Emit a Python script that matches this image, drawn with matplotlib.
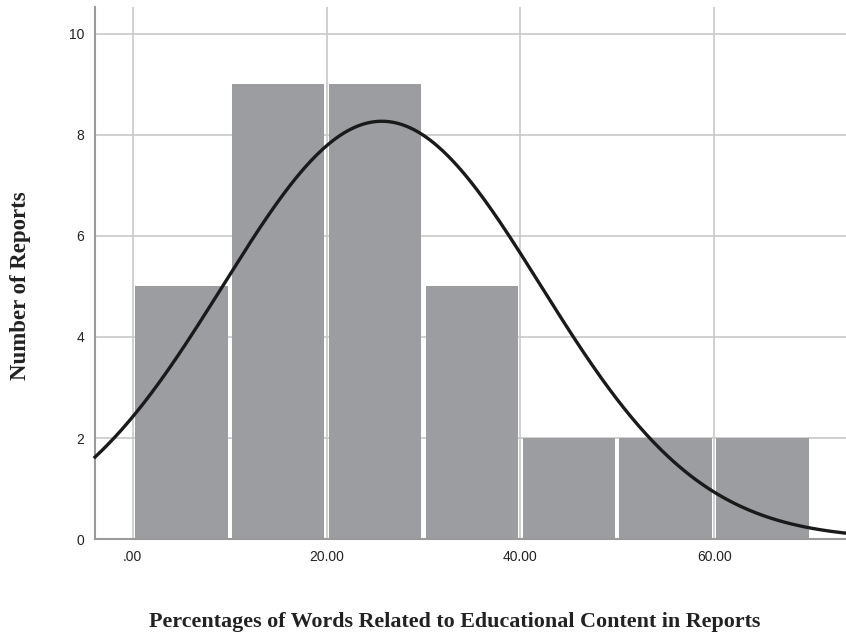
import numpy as np
import matplotlib.pyplot as plt
from matplotlib.ticker import FuncFormatter

# histogram bins (percent of words) and counts
bin_left = [0, 10, 20, 30, 40, 50, 60]
counts = [5, 9, 9, 5, 2, 2, 2]
bin_width = 10

# fitted normal curve parameters (as shown by SPSS)
fit_mean = 25.7
fit_sd = 16.4
n_reports = sum(counts)

xticks = [0, 20, 40, 60]
yticks = [0, 2, 4, 6, 8, 10]

fig = plt.figure(figsize=(8.46, 6.37), dpi=100)
ax = fig.add_axes([0.1123, 0.1538, 0.8877, 0.835])

ax.set_xlim(-3.9, 73.6)
ax.set_ylim(0, 10.53)

ax.grid(True, color="#c8c8c8", linewidth=1.2, zorder=0)
ax.set_axisbelow(True)

centers = [b + bin_width / 2 for b in bin_left]
ax.bar(centers, counts, width=bin_width * 0.955, color="#9c9da1",
       edgecolor="none", zorder=2)

xs = np.linspace(-3.9, 73.6, 400)
ys = n_reports * bin_width / (fit_sd * np.sqrt(2 * np.pi)) * np.exp(-0.5 * ((xs - fit_mean) / fit_sd) ** 2)
ax.plot(xs, ys, color="#1a1a1a", linewidth=2.4, zorder=3, clip_on=False)

ax.set_xticks(xticks)
ax.set_yticks(yticks)
ax.xaxis.set_major_formatter(FuncFormatter(lambda v, p: ".00" if v == 0 else f"{v:.2f}"))
ax.tick_params(length=0, labelsize=10, colors="#222222", pad=8)
for lbl in ax.get_xticklabels() + ax.get_yticklabels():
    lbl.set_family("Liberation Sans")

for side in ["top", "right"]:
    ax.spines[side].set_visible(False)
for side in ["left", "bottom"]:
    ax.spines[side].set_color("#9a9a9a")
    ax.spines[side].set_linewidth(1.5)

fig.text(0.538, 0.023, "Percentages of Words Related to Educational Content in Reports",
         ha="center", va="center", fontsize=15.8, fontweight="bold",
         family="Liberation Serif", color="#222222")
fig.text(0.024, 0.552, "Number of Reports", ha="center", va="center", rotation=90,
         fontsize=16.5, fontweight="bold", family="Liberation Serif", color="#222222")

fig.savefig("out.png", dpi=100)
